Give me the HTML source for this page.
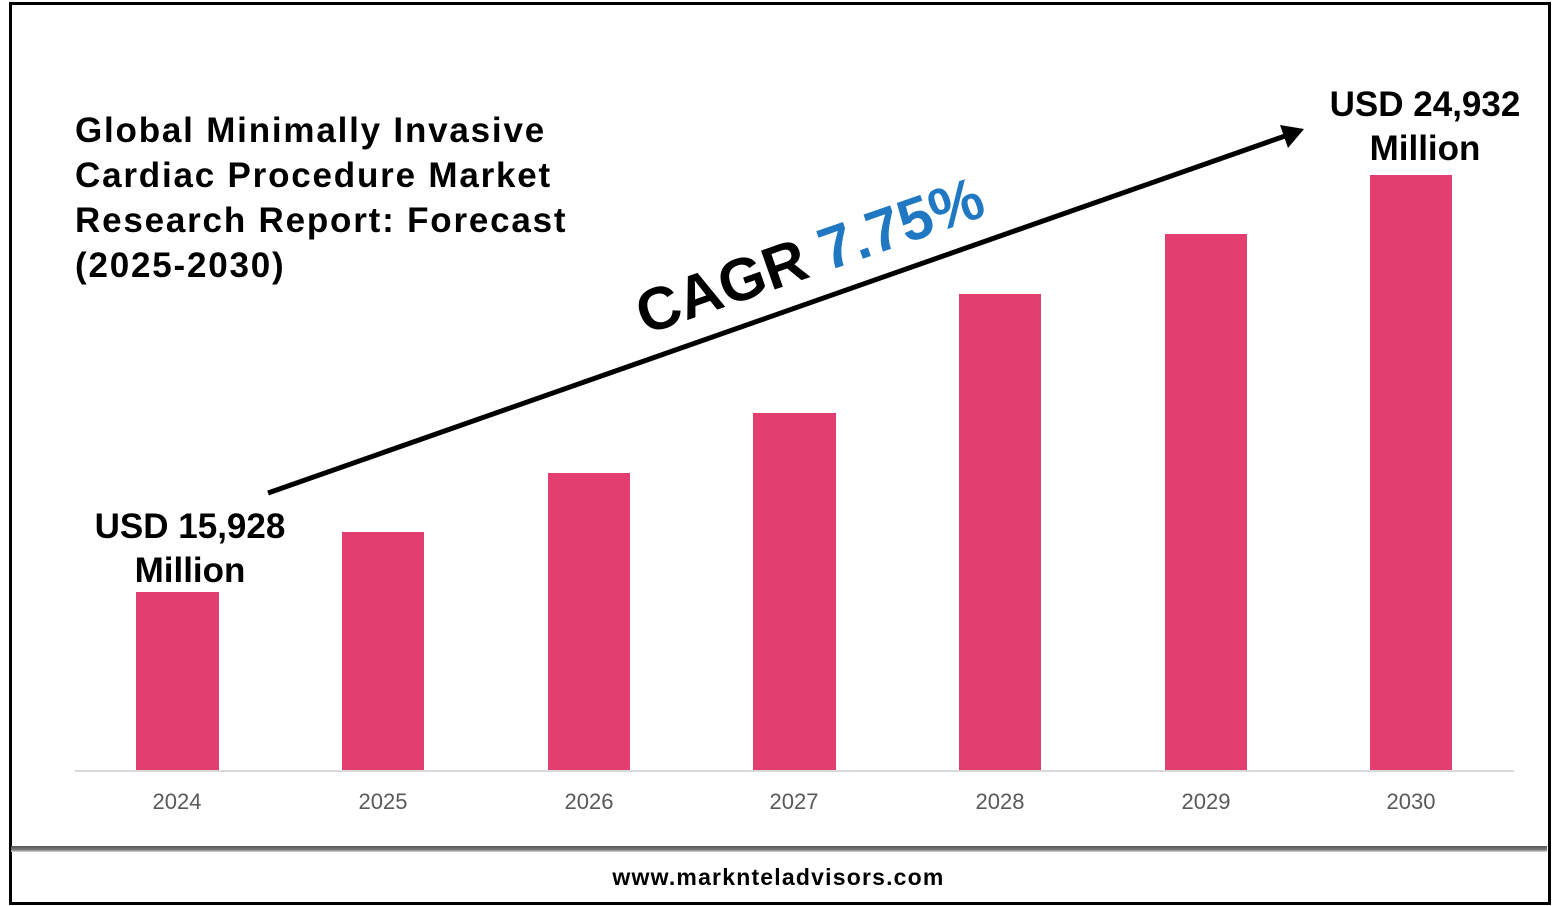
<!DOCTYPE html>
<html><head><style>
body{margin:0;width:1557px;height:906px;background:#fff;position:relative;overflow:hidden;font-family:"Liberation Sans",sans-serif}
.frame{position:absolute;left:9px;top:2px;width:1536px;height:897px;border:3px solid #000;box-sizing:content-box}
.shadow{position:absolute;left:11px;top:846px;width:1536px;height:6px;background:linear-gradient(#555,#777 60%,#ddd)}
.bar{position:absolute;background:#e23e6f}
.yr{position:absolute;top:789px;font-size:22px;color:#595959;width:100px;text-align:center}
.t{position:absolute;font-weight:bold;color:#000}
</style></head><body>
<div class="frame"></div>
<div class="shadow"></div>
<div class="t" style="left:75px;top:108px;font-size:35px;line-height:45px;letter-spacing:1.8px">Global Minimally Invasive<br>Cardiac Procedure Market<br>Research Report: Forecast<br>(2025-2030)</div>
<div class="t" style="left:70px;top:505px;width:240px;text-align:center;font-size:35px;line-height:44px">USD 15,928<br>Million</div>
<div class="t" style="left:1305px;top:83px;width:240px;text-align:center;font-size:35px;line-height:44px">USD 24,932<br>Million</div>
<div style="position:absolute;left:75px;top:770px;width:1439px;height:2px;background:#d9d9d9"></div>
<div class="bar" style="left:136px;width:83px;top:592px;height:178px"></div>
<div class="bar" style="left:342px;width:82px;top:532px;height:238px"></div>
<div class="bar" style="left:548px;width:82px;top:473px;height:297px"></div>
<div class="bar" style="left:753px;width:83px;top:413px;height:357px"></div>
<div class="bar" style="left:959px;width:82px;top:294px;height:476px"></div>
<div class="bar" style="left:1165px;width:82px;top:234px;height:536px"></div>
<div class="bar" style="left:1370px;width:82px;top:175px;height:595px"></div>
<div class="yr" style="left:127px">2024</div>
<div class="yr" style="left:333px">2025</div>
<div class="yr" style="left:539px">2026</div>
<div class="yr" style="left:744px">2027</div>
<div class="yr" style="left:950px">2028</div>
<div class="yr" style="left:1156px">2029</div>
<div class="yr" style="left:1361px">2030</div>
<svg width="1557" height="906" style="position:absolute;left:0;top:0">
<line x1="268" y1="493" x2="1285" y2="136" stroke="#000" stroke-width="5"/>
<polygon points="1304,129 1280,125 1288,148" fill="#000"/>
<g transform="translate(645,335) rotate(-19.3)" font-family="Liberation Sans,sans-serif" font-weight="bold" font-size="60">
<text x="0" y="0" fill="#000">CAGR <tspan fill="#1f78c1">7.75%</tspan></text></g>
</svg>
<div class="t" style="left:0;width:1557px;top:864px;text-align:center;font-size:23px;letter-spacing:1.2px">www.marknteladvisors.com</div>
</body></html>
